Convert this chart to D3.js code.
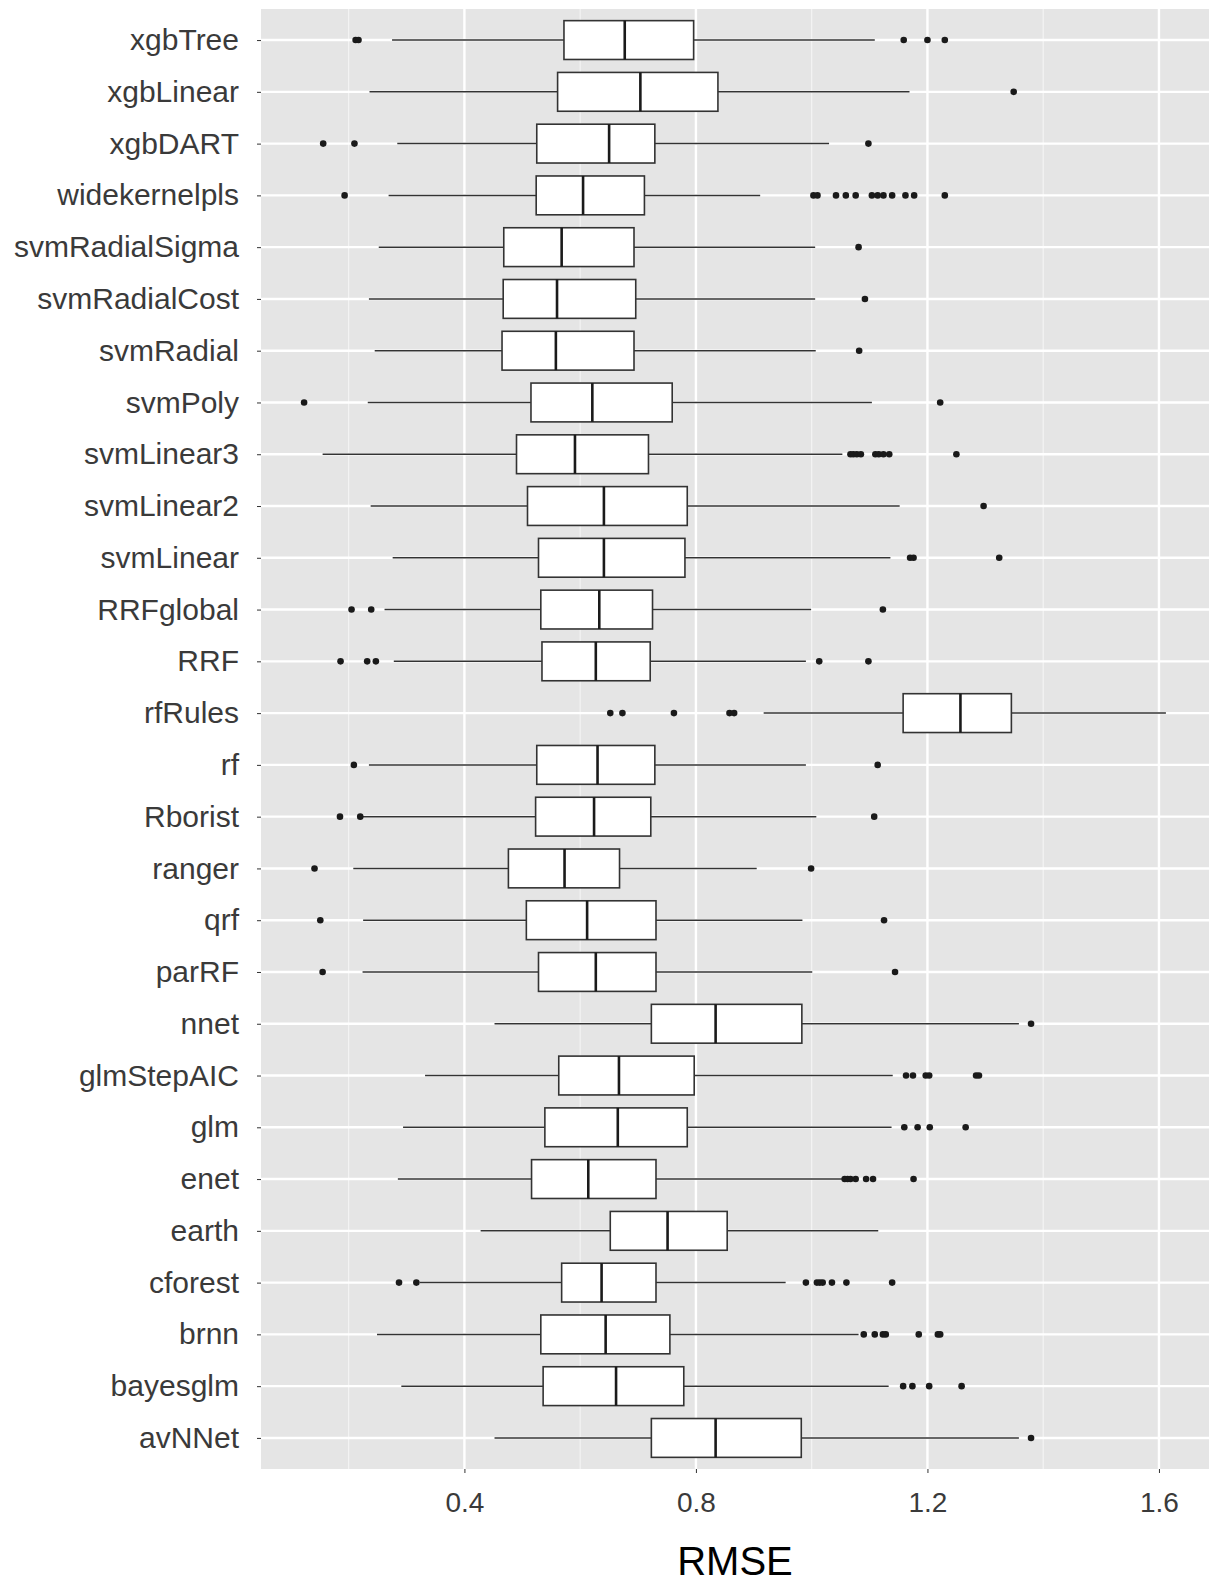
<!DOCTYPE html>
<head>
  <meta charset="utf-8">
  <title>RMSE by model</title>
  <script src="https://d3js.org/d3.v7.min.js"></script>
  <style>
    body {
      margin: 0px;
      background: white;
    }
    text {
      font-family: "Liberation Sans", Arial, sans-serif;
    }
    .axis text {
      fill: #3a3a3a;
    }
    .axis line {
      stroke: #333;
    }
  </style>
</head>
<body>
  <svg width="1210" height="1584"></svg>

  <script>
    // models, top to bottom as in the plot
    var models = ["xgbTree", "xgbLinear", "xgbDART", "widekernelpls", "svmRadialSigma",
      "svmRadialCost", "svmRadial", "svmPoly", "svmLinear3", "svmLinear2", "svmLinear",
      "RRFglobal", "RRF", "rfRules", "rf", "Rborist", "ranger", "qrf", "parRF", "nnet",
      "glmStepAIC", "glm", "enet", "earth", "cforest", "brnn", "bayesglm", "avNNet"];

    var whiskerLow = [0.275, 0.236, 0.284, 0.269, 0.252, 0.235, 0.245, 0.233, 0.155, 0.238, 0.276,
      0.262, 0.278, 0.917, 0.235, 0.224, 0.208, 0.225, 0.224, 0.452,
      0.332, 0.294, 0.285, 0.428, 0.323, 0.249, 0.291, 0.452];
    var q1 = [0.572, 0.561, 0.525, 0.524, 0.468, 0.467, 0.465, 0.515, 0.490, 0.509, 0.528,
      0.532, 0.534, 1.158, 0.525, 0.523, 0.476, 0.507, 0.528, 0.723,
      0.563, 0.539, 0.516, 0.652, 0.568, 0.532, 0.536, 0.723];
    var medians = [0.677, 0.704, 0.650, 0.605, 0.568, 0.560, 0.558, 0.621, 0.591, 0.641, 0.641,
      0.633, 0.627, 1.257, 0.630, 0.624, 0.573, 0.612, 0.627, 0.834,
      0.667, 0.665, 0.614, 0.751, 0.637, 0.644, 0.662, 0.834];
    var q3 = [0.796, 0.838, 0.729, 0.711, 0.693, 0.696, 0.693, 0.759, 0.718, 0.785, 0.781,
      0.725, 0.721, 1.345, 0.729, 0.722, 0.668, 0.731, 0.731, 0.983,
      0.797, 0.785, 0.731, 0.854, 0.731, 0.755, 0.779, 0.982];
    var whiskerHigh = [1.109, 1.169, 1.030, 0.911, 1.006, 1.006, 1.007, 1.104, 1.053, 1.152, 1.136,
      0.999, 0.990, 1.612, 0.990, 1.008, 0.905, 0.984, 1.001, 1.358,
      1.140, 1.138, 1.053, 1.115, 0.955, 1.081, 1.133, 1.358];
    var outliers = [
      [0.212, 0.217, 1.159, 1.200, 1.230],
      [1.349],
      [0.156, 0.210, 1.098],
      [0.193, 1.003, 1.010, 1.042, 1.059, 1.076, 1.104, 1.114, 1.124, 1.139, 1.162, 1.177, 1.230],
      [1.081],
      [1.092],
      [1.082],
      [0.123, 1.222],
      [1.067, 1.072, 1.078, 1.085, 1.110, 1.116, 1.124, 1.134, 1.250],
      [1.297],
      [1.170, 1.176, 1.324],
      [0.205, 0.239, 1.123],
      [0.186, 0.232, 0.247, 1.013, 1.098],
      [0.652, 0.673, 0.762, 0.858, 0.866],
      [0.209, 1.114],
      [0.185, 0.220, 1.108],
      [0.141, 0.999],
      [0.151, 1.125],
      [0.155, 1.144],
      [1.379],
      [1.163, 1.175, 1.197, 1.203, 1.284, 1.289],
      [1.160, 1.183, 1.204, 1.266],
      [1.057, 1.062, 1.067, 1.076, 1.094, 1.106, 1.176],
      [],
      [0.287, 0.317, 0.990, 1.009, 1.014, 1.019, 1.035, 1.060, 1.139],
      [1.090, 1.109, 1.123, 1.128, 1.185, 1.218, 1.222],
      [1.158, 1.174, 1.203, 1.259],
      [1.379]
    ];
    var majorTicks = [0.4, 0.8, 1.2, 1.6];
    var minorTicks = [0.2, 0.6, 1.0, 1.4];

    var svg = d3.select("svg");
    var panel = { "left": 261, "right": 1209, "top": 9, "bottom": 1469 };

    var rows = models.map(function(m, i) {
      return {
        "model": m, "lo": whiskerLow[i], "q1": q1[i], "med": medians[i],
        "q3": q3[i], "hi": whiskerHigh[i], "out": outliers[i]
      };
    });

    // ggplot style 5% expansion of the data range
    var allVals = d3.merge([whiskerLow, whiskerHigh, d3.merge(outliers)]);
    var xmin = d3.min(allVals), xmax = d3.max(allVals);
    var pad = (xmax - xmin) * 0.05;

    var x = d3.scaleLinear()
      .domain([xmin - pad, xmax + pad])
      .range([panel.left, panel.right]);
    var y = d3.scalePoint()
      .domain(models)
      .range([panel.top, panel.bottom])
      .padding(0.6);
    var boxH = y.step() * 0.75;

    // panel background + grid
    svg.append("rect")
      .attr("x", panel.left)
      .attr("y", panel.top)
      .attr("width", panel.right - panel.left)
      .attr("height", panel.bottom - panel.top)
      .attr("fill", "#e5e5e5");

    svg.selectAll(".minor")
      .data(minorTicks)
      .enter().append("line")
      .attr("x1", function(d) { return x(d); })
      .attr("x2", function(d) { return x(d); })
      .attr("y1", panel.top)
      .attr("y2", panel.bottom)
      .attr("stroke", "#f4f4f4")
      .attr("stroke-width", 1.2);

    svg.selectAll(".major")
      .data(majorTicks)
      .enter().append("line")
      .attr("x1", function(d) { return x(d); })
      .attr("x2", function(d) { return x(d); })
      .attr("y1", panel.top)
      .attr("y2", panel.bottom)
      .attr("stroke", "white")
      .attr("stroke-width", 2.4);

    svg.selectAll(".hgrid")
      .data(models)
      .enter().append("line")
      .attr("x1", panel.left)
      .attr("x2", panel.right)
      .attr("y1", function(d) { return y(d); })
      .attr("y2", function(d) { return y(d); })
      .attr("stroke", "white")
      .attr("stroke-width", 2.4);

    // boxes
    var g = svg.selectAll(".box")
      .data(rows)
      .enter().append("g")
      .attr("class", "box");

    g.append("line")
      .attr("x1", function(d) { return x(d.lo); })
      .attr("x2", function(d) { return x(d.q1); })
      .attr("y1", function(d) { return y(d.model); })
      .attr("y2", function(d) { return y(d.model); })
      .attr("stroke", "#333")
      .attr("stroke-width", 1.5);
    g.append("line")
      .attr("x1", function(d) { return x(d.q3); })
      .attr("x2", function(d) { return x(d.hi); })
      .attr("y1", function(d) { return y(d.model); })
      .attr("y2", function(d) { return y(d.model); })
      .attr("stroke", "#333")
      .attr("stroke-width", 1.5);

    g.append("rect")
      .attr("x", function(d) { return x(d.q1); })
      .attr("y", function(d) { return y(d.model) - boxH / 2; })
      .attr("width", function(d) { return x(d.q3) - x(d.q1); })
      .attr("height", boxH)
      .attr("fill", "white")
      .attr("stroke", "#333")
      .attr("stroke-width", 1.6);

    g.append("line")
      .attr("x1", function(d) { return x(d.med); })
      .attr("x2", function(d) { return x(d.med); })
      .attr("y1", function(d) { return y(d.model) - boxH / 2; })
      .attr("y2", function(d) { return y(d.model) + boxH / 2; })
      .attr("stroke", "#1a1a1a")
      .attr("stroke-width", 2.6);

    g.selectAll(".out")
      .data(function(d) { return d.out.map(function(v) { return { "v": v, "model": d.model }; }); })
      .enter().append("circle")
      .attr("cx", function(d) { return x(d.v); })
      .attr("cy", function(d) { return y(d.model); })
      .attr("r", 3.3)
      .attr("fill", "#1a1a1a");

    // axes
    var yAxis = svg.append("g")
      .attr("class", "axis")
      .attr("transform", translate(panel.left, 0))
      .call(d3.axisLeft(y).tickSize(4).tickPadding(18));
    yAxis.select(".domain").remove();
    yAxis.selectAll("text").style("font-size", "30px");

    var xAxis = svg.append("g")
      .attr("class", "axis")
      .attr("transform", translate(0, panel.bottom))
      .call(d3.axisBottom(x).tickValues(majorTicks).tickSize(4).tickPadding(19)
        .tickFormat(d3.format(".1f")));
    xAxis.select(".domain").remove();
    xAxis.selectAll("text").style("font-size", "28px");

    svg.append("text")
      .attr("x", (panel.left + panel.right) / 2)
      .attr("y", 1575)
      .attr("text-anchor", "middle")
      .style("font-size", "40px")
      .attr("fill", "black")
      .text("RMSE");

    function translate(x, y) {
      return "translate(" + String(x) + "," + String(y) + ")";
    }
  </script>
</body>
</html>
